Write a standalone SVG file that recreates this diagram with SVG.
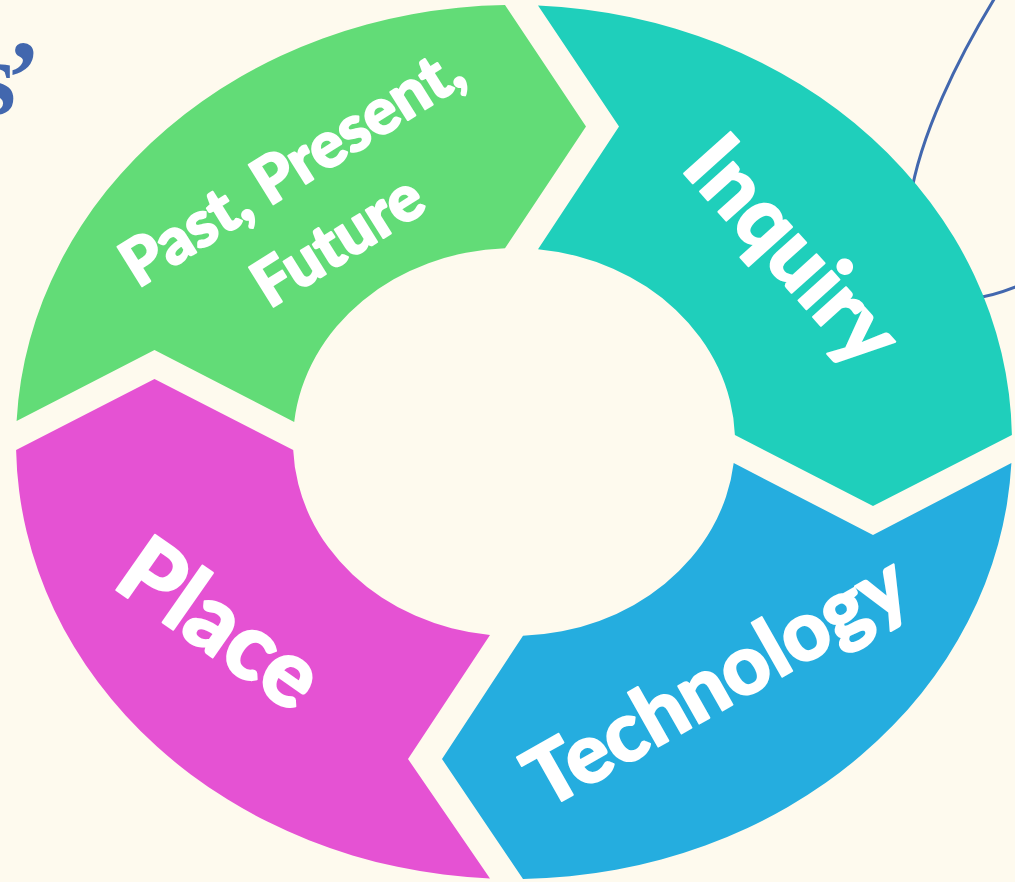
<svg xmlns="http://www.w3.org/2000/svg" width="1015" height="882" viewBox="0 0 1015 882">
<style>
.lbl{font-family:"Lato","Open Sans","Liberation Sans",sans-serif;font-weight:900;fill:#FFFFFF;stroke:#FFFFFF;stroke-width:2;stroke-linejoin:round;text-anchor:middle}
.title{font-family:"Liberation Serif","Times New Roman",serif;font-weight:bold;fill:#4267AE}
</style>
<rect x="0" y="0" width="1015" height="882" fill="#FEFAEE"/>
<g id="title-fragment">
<text class="title" x="-25" y="114" font-size="105">s<tspan dx="-10">’</tspan></text>
</g>
<g id="connectors">
<path d="M 996,-4 C 958,58 920,135 910,200 C 903,250 925,302 975,298 C 990,296.5 1003,292 1018,286" fill="none" stroke="#4267AE" stroke-width="3"/>
</g>
<g id="node-past">
<path d="M 16.6,421 A 498 437 0 0 1 505,5.1 L 586,126.5 L 505,248.2 A 221 194 0 0 0 294.2,422 L 154.5,350 Z" fill="#62DC77"/>
<g transform="translate(326,222) rotate(-32)">
<text class="lbl" x="0" y="-43" font-size="64">Past, Present,</text>
<text class="lbl" x="0" y="44" font-size="64">Future</text>
</g>
</g>
<g id="node-inquiry">
<path d="M 538,5.5 A 498 437 0 0 1 1011.9,435 L 873,506 L 734.9,435 A 221 194 0 0 0 538,249.2 L 619,126.5 Z" fill="#1FCFBB"/>
<text class="lbl" font-size="86" transform="translate(771,270) rotate(48)">Inquiry</text>
</g>
<g id="node-technology">
<path d="M 523,878.9 A 498 437 0 0 0 1011.4,463 L 873,535 L 733.7,463 A 221 194 0 0 1 523,635.8 L 442,759 Z" fill="#25ADDF"/>
<text class="lbl" font-size="83" transform="translate(730,706) rotate(-29.5)">Technology</text>
</g>
<g id="node-place">
<path d="M 490,634.9 L 408,759 L 490,878.5 A 498 437 0 0 1 16.1,450 L 154.5,379 L 293.2,450 A 221 194 0 0 0 490,634.9 Z" fill="#E552D3"/>
<text class="lbl" font-size="93" transform="translate(202,650) rotate(35)">Place</text>
</g>
</svg>
